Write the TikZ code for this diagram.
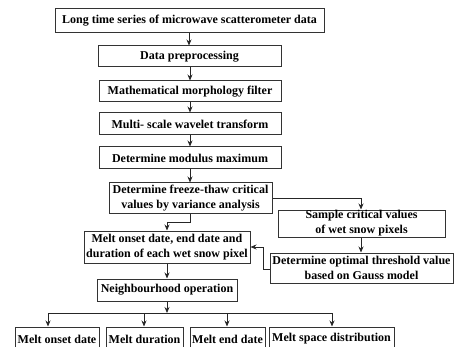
\documentclass[tikz,border=0pt]{standalone}
\usepackage{fontspec}
\setmainfont{Liberation Serif}
\usetikzlibrary{arrows.meta}
\begin{document}
\begin{tikzpicture}[x=1pt,y=-1pt,
  box/.style={draw=black!80,line width=1pt,inner sep=0pt,align=center,
    font=\fontsize{12}{15}\selectfont\bfseries},
  arr/.style={draw=black!85,line width=0.8pt,-{Stealth[length=6pt,width=5pt]}},
  ln/.style={draw=black!85,line width=0.8pt}]
\useasboundingbox (0,0) rectangle (454,347);
\node[box,minimum width=269pt,minimum height=24pt] (b1) at (189.5,21) {Long time series of microwave scatterometer data};
\node[box,minimum width=183pt,minimum height=21pt] (b2) at (189.5,56.5) {Data preprocessing};
\node[box,minimum width=182pt,minimum height=21pt] (b3) at (190,91.5) {Mathematical morphology filter};
\node[box,minimum width=182pt,minimum height=22pt] (b4) at (190,124) {Multi- scale wavelet transform};
\node[box,minimum width=182pt,minimum height=22pt] (b5) at (190,158) {Determine modulus maximum};
\node[box,minimum width=163pt,minimum height=30pt] (b6) at (190.5,198) {Determine freeze-thaw critical\\values by variance analysis};
\node[box,minimum width=167pt,minimum height=27pt] (b7) at (361.5,223.5) {Sample critical values\\of wet snow pixels};
\node[box,minimum width=183pt,minimum height=30pt] (b8) at (361.5,268) {Determine optimal threshold value\\based on Gauss model};
\node[box,minimum width=166pt,minimum height=32pt] (b9) at (167,247) {Melt onset date, end date and\\duration of each wet snow pixel};
\node[box,minimum width=140pt,minimum height=22pt] (b10) at (167,290) {Neighbourhood operation};
\node[box,minimum width=84pt,minimum height=24pt] (o1) at (57,339) {Melt onset date};
\node[box,minimum width=77pt,minimum height=24pt] (o2) at (144.5,339) {Melt duration};
\node[box,minimum width=75pt,minimum height=24pt] (o3) at (227.5,339) {Melt end date};
\node[box,minimum width=125pt,minimum height=24pt] (o4) at (331.5,339) {Melt space distribution};

\coordinate (j6) at (190,222);
\coordinate (j6b) at (167,222);
\coordinate (r6) at (361,198);
\coordinate (l8a) at (263,269);
\coordinate (l8b) at (263,247);
\coordinate (jb) at (167,313);
\coordinate (h1) at (48,313);
\coordinate (h2) at (144,313);
\coordinate (h3) at (227,313);
\coordinate (h4) at (332,313);

\draw[arr] (b1.south -| 189,0) -- (b2.north -| 189,0);
\draw[arr] (b2.south -| 190,0) -- (b3.north -| 190,0);
\draw[arr] (b3.south -| 190,0) -- (b4.north -| 190,0);
\draw[arr] (b4.south -| 190,0) -- (b5.north -| 190,0);
\draw[arr] (b5.south -| 190,0) -- (b6.north -| 190,0);
\draw[arr] (b6.south -| j6) -- (j6) -- (j6b) -- (b9.north -| j6b);
\draw[arr] (b6.east |- r6) -- (r6) -- (b7.north -| r6);
\draw[arr] (b7.south -| r6) -- (b8.north -| r6);
\draw[arr] (b8.west |- l8a) -- (l8a) -- (l8b) -- (b9.east |- l8b);
\draw[arr] (b9.south) -- (b10.north);
\draw[arr] (b10.south) -- (jb);
\draw[ln] (h1) -- (h4);
\draw[arr] (h1) -- (o1.north -| h1);
\draw[arr] (h2) -- (o2.north -| h2);
\draw[arr] (h3) -- (o3.north -| h3);
\draw[arr] (h4) -- (o4.north -| h4);
\end{tikzpicture}
\end{document}
